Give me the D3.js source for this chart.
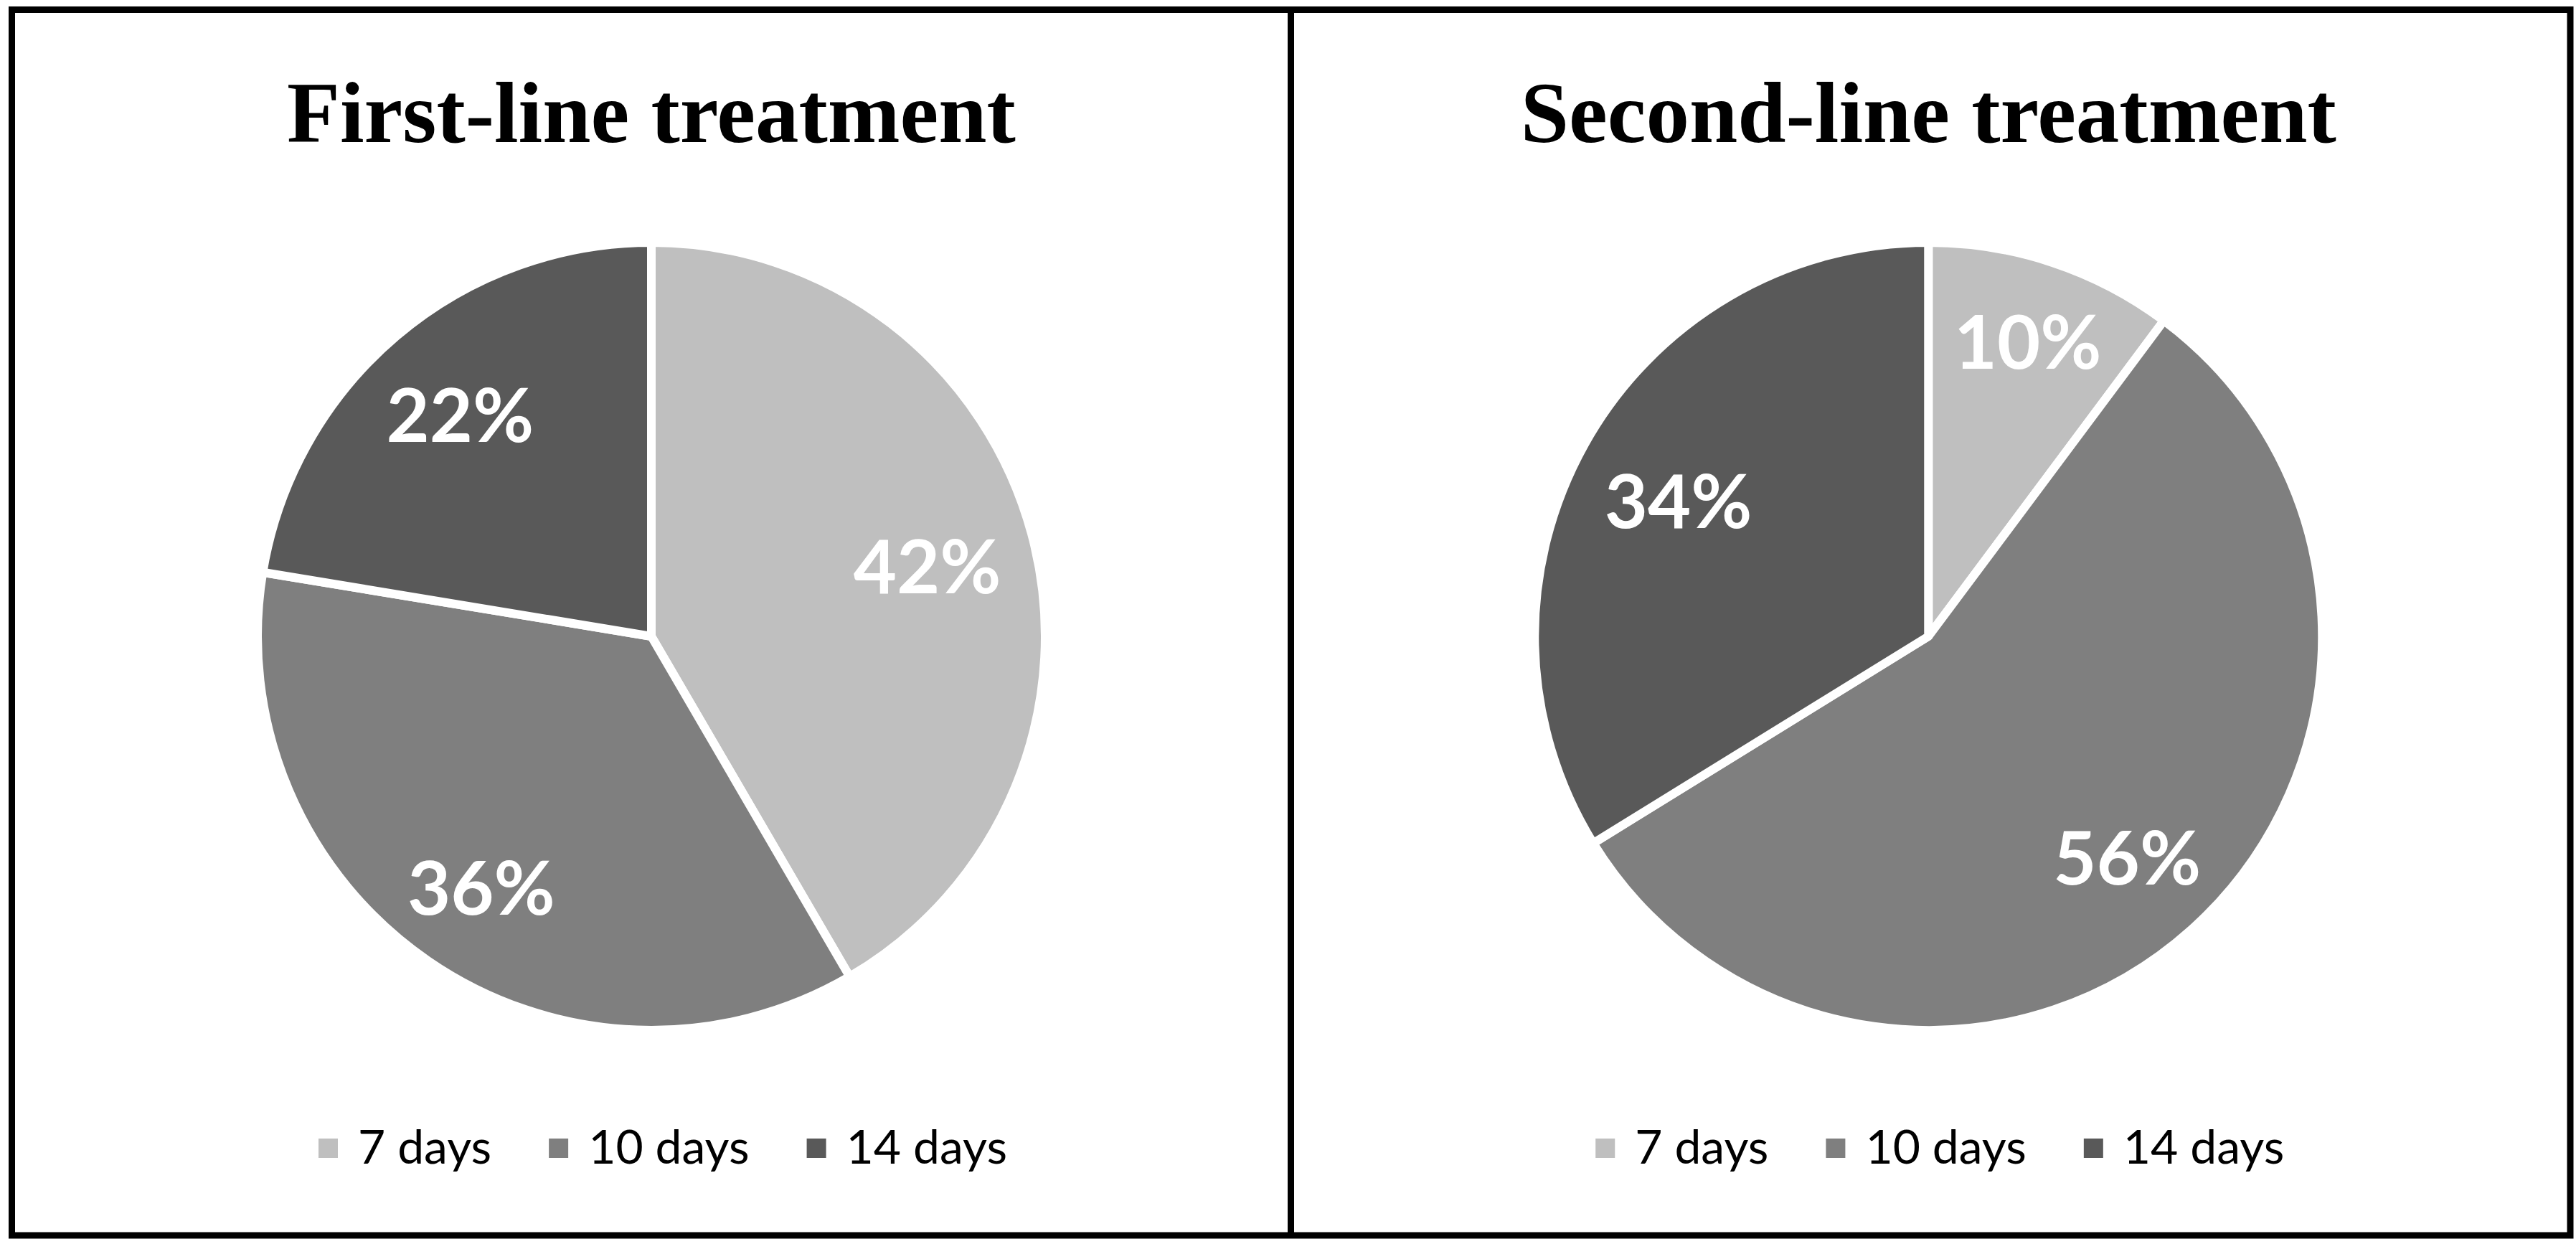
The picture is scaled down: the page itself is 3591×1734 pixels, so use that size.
<!DOCTYPE html>
<html>
<head>
<meta charset="utf-8">
<script src="https://cdn.jsdelivr.net/npm/d3@7"></script>
<style>
  body { margin: 0; background: #fff; }
</style>
</head>
<body>
<div id="chart"></div>
<script>
// Data
const categories = ["7 days", "10 days", "14 days"];
const titles = ["First-line treatment", "Second-line treatment"];
const firstLine = [41.6, 36.0, 22.4];
const secondLine = [10.2, 56.0, 33.8];
const colors = ["#bfbfbf", "#7f7f7f", "#595959"];

const width = 3591, height = 1734;

const svg = d3.select("#chart").append("svg")
    .attr("width", width)
    .attr("height", height);

// Panel frames
const frame = { left: 16.5, right: 3583, top: 13.5, bottom: 1722, mid: 1799.5 };
svg.append("rect")
    .attr("x", frame.left).attr("y", frame.top)
    .attr("width", frame.right - frame.left).attr("height", frame.bottom - frame.top)
    .attr("fill", "none").attr("stroke", "#000").attr("stroke-width", 9);
svg.append("line")
    .attr("x1", frame.mid).attr("x2", frame.mid)
    .attr("y1", frame.top).attr("y2", frame.bottom)
    .attr("stroke", "#000").attr("stroke-width", 9);

const panels = [
    { title: titles[0], values: firstLine, cx: (frame.left + frame.mid) / 2 },
    { title: titles[1], values: secondLine, cx: (frame.mid + frame.right) / 2 - 3 }
];

const radius = 543;
const pie = d3.pie().sort(null).value(d => d);
const arc = d3.arc().innerRadius(0).outerRadius(radius + 6);
const pct = d3.format(".0f");

panels.forEach(p => {
    const g = svg.append("g");

    // Title
    g.append("text")
        .attr("x", p.cx)
        .attr("y", 198)
        .attr("text-anchor", "middle")
        .style("font-family", "'Liberation Serif', 'Times New Roman', serif")
        .style("font-weight", "bold")
        .style("font-size", "121px")
        .text(p.title);

    // Pie
    const pieG = g.append("g")
        .attr("transform", `translate(${p.cx},887)`);

    const arcs = pie(p.values);

    pieG.selectAll("path")
        .data(arcs)
        .enter().append("path")
        .attr("d", arc)
        .attr("fill", (d, i) => colors[i])
        .attr("stroke", "#fff")
        .attr("stroke-width", 12)
        .attr("stroke-linejoin", "round");

    // Labels placed near the inside end of each slice
    pieG.selectAll("text")
        .data(arcs)
        .enter().append("text")
        .attr("text-anchor", "middle")
        .attr("dy", "0.36em")
        .style("font-family", "Lato, 'Open Sans', sans-serif")
        .style("font-weight", "bold")
        .style("font-size", "104px")
        .attr("fill", "#fff")
        .text(d => pct(d.data) + "%")
        .each(function(d) {
            const bb = this.getBBox();
            const a = (d.startAngle + d.endAngle) / 2;
            const s = Math.sin(a), c = -Math.cos(a);
            const ext = bb.width / 2 * Math.abs(s) + 38 * Math.abs(c);
            const r = radius * 0.935 - ext;
            d3.select(this).attr("x", r * s).attr("y", r * c + 6);
        });

    // Legend
    const legend = g.append("g");
    let xPos = 0;
    categories.forEach((cat, i) => {
        legend.append("rect")
            .attr("x", xPos)
            .attr("y", 1587)
            .attr("width", 27)
            .attr("height", 27)
            .attr("fill", colors[i]);
        const t = legend.append("text")
            .attr("x", xPos + 55)
            .attr("y", 1622)
            .style("font-family", "Lato, 'Open Sans', sans-serif")
            .style("font-size", "66px")
            .attr("fill", "#000")
            .text(cat);
        xPos += 55 + t.node().getComputedTextLength() + 80;
    });
    const legendW = xPos - 80;
    legend.attr("transform", `translate(${p.cx + 16 - legendW / 2},0)`);
});
</script>
</body>
</html>
